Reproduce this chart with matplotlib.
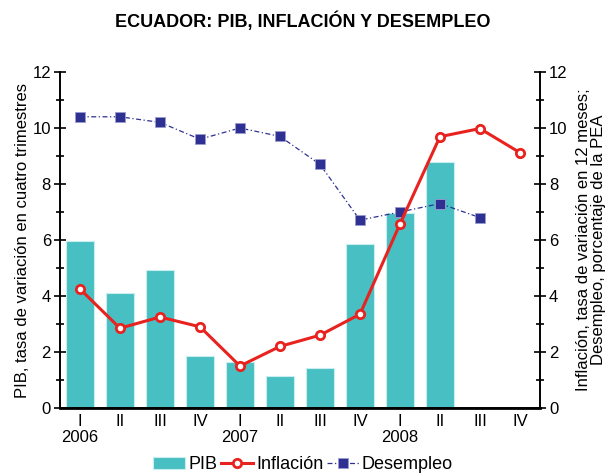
import matplotlib.pyplot as plt
from matplotlib.ticker import MultipleLocator

plt.rcParams['font.family'] = ['Liberation Sans', 'DejaVu Sans']

quarters = ['I', 'II', 'III', 'IV', 'I', 'II', 'III', 'IV', 'I', 'II', 'III', 'IV']
years = ['2006', '2007', '2008']
pib = [5.95, 4.1, 4.93, 1.86, 1.64, 1.14, 1.43, 5.85, 6.97, 8.78]
inflacion = [4.25, 2.85, 3.25, 2.9, 1.5, 2.2, 2.6, 3.35, 6.57, 9.69, 9.98, 9.12]
desempleo = [10.4, 10.4, 10.2, 9.6, 10.0, 9.7, 8.7, 6.71, 7.0, 7.3, 6.8]

teal = '#48bfc3'
red = '#e8231f'
navy = '#2e3192'

fig = plt.figure(figsize=(6.06, 4.73), dpi=100)
ax = fig.add_axes([0.099, 0.1374, 0.792, 0.7104])
ax2 = ax.twinx()

bars = ax.bar(range(len(pib)), pib, width=0.68, color=teal,
              edgecolor='#c8eeee', linewidth=0.8, label='PIB', zorder=1)
l_inf, = ax2.plot(range(len(inflacion)), inflacion, color=red, lw=2.2,
                  marker='o', ms=6, mfc='white', mec=red, mew=2, label='Inflación', zorder=3)
l_des, = ax2.plot(range(len(desempleo)), desempleo, color=navy, lw=0.9,
                  linestyle=(0, (4, 2, 1, 2)), marker='s', ms=7, mfc=navy,
                  mec='#9a9cd0', mew=0.6, label='Desempleo', zorder=2)

for a in (ax, ax2):
    a.set_ylim(0, 12)
    a.set_xlim(-0.5, 11.5)
    a.yaxis.set_major_locator(MultipleLocator(2))
    a.yaxis.set_minor_locator(MultipleLocator(1))
    a.tick_params(axis='y', which='major', direction='inout', length=9, width=1.2, labelsize=12, pad=2)
    a.tick_params(axis='y', which='minor', direction='inout', length=6, width=1.2)
    a.spines['top'].set_visible(False)
    for s in ('left', 'right', 'bottom'):
        a.spines[s].set_linewidth(1.2)

ax.set_xticks(range(len(quarters)))
ax.set_xticklabels(quarters, fontsize=12)
ax.tick_params(axis='x', length=0, pad=4)
ax.spines['bottom'].set_linewidth(2)

for i, yr in enumerate(years):
    ax.text(i * 4, -0.8, yr, ha='center', va='top', fontsize=12)

ax.set_ylabel('PIB, tasa de variación en cuatro trimestres', fontsize=12, labelpad=2)
ax2.set_ylabel('Inflación, tasa de variación en 12 meses;\nDesempleo, porcentaje de la PEA',
               fontsize=12, labelpad=6, rotation=90, linespacing=1.0, multialignment='center')

fig.suptitle('ECUADOR: PIB, INFLACIÓN Y DESEMPLEO', fontsize=13, fontweight='bold', y=0.975)

fig.legend(handles=[bars, l_inf, l_des], loc='lower center', bbox_to_anchor=(0.5, -0.035),
           ncol=3, frameon=False, fontsize=13, handlelength=1.8, handletextpad=0.15,
           columnspacing=0.2)

fig.savefig('out.png', dpi=100)
